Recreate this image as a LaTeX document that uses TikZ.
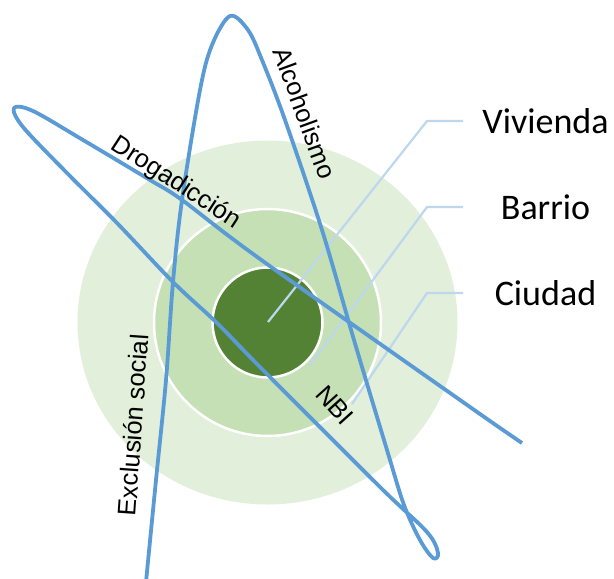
\documentclass[tikz,border=0pt]{standalone}
\usepackage{fontspec}
\setmainfont{Carlito}
\newfontfamily\arialfont{Liberation Sans}
\usetikzlibrary{calc}
\definecolor{ringout}{HTML}{E2EFDA}
\definecolor{ringmid}{HTML}{C5E0B4}
\definecolor{ringin}{HTML}{548235}
\definecolor{curveblue}{HTML}{5B9BD5}
\definecolor{leaderblue}{HTML}{BDD7EE}

\begin{document}
\begin{tikzpicture}[x=1pt,y=-1pt,
    leader/.style={leaderblue, line width=2.2pt},
    level/.style={font=\fontsize{36}{40}\selectfont, inner sep=0pt, anchor=base},
    factor/.style={font=\arialfont\fontsize{25.5}{28}\selectfont, inner sep=0pt}]
        \useasboundingbox (0,0) rectangle (614,579);
        \coordinate (c) at (267.5,322.5);
        %Color fill
        \fill[ringout] (c) ellipse [x radius=190pt, y radius=182pt];
        \filldraw[ringmid, draw=white, line width=2.5pt] (c) circle (113.5pt);
        \filldraw[ringin, draw=white, line width=2.5pt] (c) circle (55pt);
        %Draw labels and leaders
        \foreach \name/\txt/\yy/\ex/\ey in {viv/Vivienda/121/268/322, bar/Barrio/207/310/365, ciu/Ciudad/293/352/404}
          {
            \node[level] (\name) at (545.5,{\yy+12}) {\txt};
            \coordinate (\name-a) at (463,\yy);
            \coordinate (\name-b) at (427,\yy);
            \coordinate (\name-c) at (\ex,\ey);
            \draw[leader] (\name-a) -- (\name-b) -- (\name-c);
          }
        %Draw curve
        \draw[curveblue, line width=3.8pt, line join=round] plot[smooth, tension=0.55] coordinates {
            (146,582) (156,480) (166,380) (173,282) (182,200) (200,90) (212,45) (230,16)
            (248,30) (262,60) (285,120) (322,230) (354,340) (387,450) (404,505) (420,540)
            (433,558) (438,553) (427,532) (380,487) (260,367) (217,323) (173,282) (117,223)
            (67,173) (23,127) (14,108) (33,111) (83,140) (150,180) (182,200) (260,259)
            (470,407) (522,443)};
        %Draw factors
        \node[factor, rotate=-70] (alc) at (305,113) {Alcoholismo};
        \node[factor, rotate=-33] (drog) at (176,183) {Drogadicción};
        \node[factor, rotate=86] (excl) at (133,425) {Exclusión social};
        \node[factor, rotate=-48] (nbi) at (335,405) {NBI};
\end{tikzpicture}
\end{document}
